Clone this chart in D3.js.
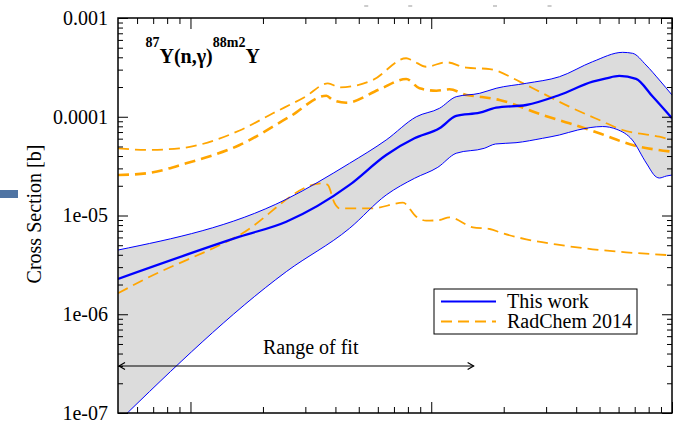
<!DOCTYPE html>
<html lang="en">
<head>
<meta charset="UTF-8">
<title>87Y(n,g)88m2Y cross section</title>
<script src="https://d3js.org/d3.v7.min.js"></script>
<style>
    body { margin: 0; padding: 0; background: #fff; }
    svg { display: block; }
    svg text { font-family: "Liberation Serif", "DejaVu Serif", "Times New Roman", Times, serif; }
    .tick text { font-size: 20px; fill: #000; }
    .tick line { stroke: #000; stroke-width: 1; }
    .label { font-size: 20px; fill: #000; }
</style>
</head>
<body>
<svg width="682" height="422"></svg>
<script>
// This work: central value and uncertainty band (energy, cross section in b)
const workE    = [0.05, 0.16, 0.25, 0.458, 0.65, 0.852, 1.082, 1.27, 1.59, 1.86, 2.48, 3.41, 4.68, 5.33, 6.04, 7.09, 8.31, 10];
const workXS   = [2.28e-6, 6.10e-6, 8.65e-6, 2.04e-5, 4.10e-5, 6.05e-5, 7.64e-5, 1.02e-4, 1.10e-4, 1.235e-4, 1.315e-4, 1.66e-4, 2.265e-4, 2.45e-4, 2.59e-4, 2.42e-4, 1.60e-4, 9.65e-5];
const workHiE  = [0.05, 0.25, 0.458, 0.65, 0.867, 1.082, 1.27, 1.59, 1.86, 2.48, 3.41, 4.68, 6.24, 6.86, 7.80, 8.86, 10];
const workHiXS = [4.47e-6, 1.46e-5, 3.38e-5, 5.82e-5, 1.0e-4, 1.218e-4, 1.596e-4, 1.728e-4, 1.942e-4, 2.18e-4, 2.544e-4, 3.61e-4, 4.49e-4, 4.39e-4, 3.34e-4, 2.356e-4, 1.661e-4];
const workLoE  = [0.05, 0.25, 0.458, 0.65, 0.852, 1.065, 1.27, 1.66, 1.85, 2.25, 2.90, 3.41, 4.06, 5.14, 5.9, 6.84, 7.82, 8.61, 8.86, 9.47, 10];
const workLoXS = [8.1e-8, 2.70e-6, 7.42e-6, 1.613e-5, 2.38e-5, 3.077e-5, 4.27e-5, 4.79e-5, 5.30e-5, 5.46e-5, 6.05e-5, 6.54e-5, 7.34e-5, 7.96e-5, 7.45e-5, 5.82e-5, 3.40e-5, 2.454e-5, 2.397e-5, 2.51e-5, 2.571e-5];

// RadChem 2014: central and upper/lower curves
const radMidE   = [0.05, 0.0657, 0.096, 0.16, 0.258, 0.367, 0.39, 0.444, 0.61, 0.787, 0.894, 1.05, 1.19, 1.40, 1.59, 1.92, 2.90, 3.75, 4.99, 6.86, 10];
const radMidXS  = [2.57e-5, 2.675e-5, 3.38e-5, 5.175e-5, 1.0e-4, 1.634e-4, 1.478e-4, 1.388e-4, 1.897e-4, 2.412e-4, 1.942e-4, 1.836e-4, 1.897e-4, 1.661e-4, 1.596e-4, 1.478e-4, 1.042e-4, 8.59e-5, 6.80e-5, 5.175e-5, 4.43e-5];
const radHiE    = [0.05, 0.0657, 0.09, 0.16, 0.22, 0.30, 0.372, 0.416, 0.572, 0.787, 0.839, 0.953, 1.154, 1.40, 1.75, 2.33, 2.73, 3.75, 4.99, 6.24, 8.86, 10];
const radHiXS   = [4.79e-5, 4.61e-5, 4.79e-5, 7.26e-5, 1.084e-4, 1.596e-4, 2.18e-4, 1.987e-4, 2.356e-4, 3.91e-4, 3.69e-4, 3.21e-4, 3.56e-4, 3.14e-4, 3.04e-4, 2.265e-4, 1.866e-4, 1.264e-4, 9.27e-5, 7.34e-5, 6.28e-5, 5.82e-5];
const radLoE    = [0.05, 0.0636, 0.16, 0.355, 0.372, 0.397, 0.416, 0.572, 0.763, 0.867, 0.953, 1.082, 1.19, 1.49, 1.75, 1.98, 2.48, 3.41, 4.68, 6.44, 10];
const radLoXS   = [1.63e-6, 2.22e-6, 6.35e-6, 2.12e-5, 2.036e-5, 1.329e-5, 1.183e-5, 1.183e-5, 1.348e-5, 9.72e-6, 8.86e-6, 9.0e-6, 9.59e-6, 7.59e-6, 7.30e-6, 6.60e-6, 5.74e-6, 5.03e-6, 4.55e-6, 4.24e-6, 3.95e-6];

const fitRange = [0.05, 1.5];
const yMajor = [1e-7, 1e-6, 1e-5, 1e-4, 1e-3];
const yLabels = ["1e-07", "1e-06", "1e-05", "0.0001", "0.001"];
const xMajor = [0.1, 1, 10];
const legendItems = ["This work", "RadChem 2014"];
// leftover specks of text cut off above the frame
const topSpecks = [0.537, 0.818, 1.84, 3.1];

const svg = d3.select("svg");
const pLeft = 118, pRight = 672, pTop = 18, pBottom = 413;

const x = d3.scaleLog().domain([0.05, 10]).range([pLeft, pRight]);
const y = d3.scaleLog().domain([1e-7, 1e-3]).range([pBottom, pTop]);

// minor tick positions
const xMinor = [];
[0.01, 0.1, 1].forEach(dec => { for (let m = 2; m <= 9; m++) { const v = dec * m; if (v > 0.05 && v < 10) xMinor.push(v); } });
const yMinor = [];
[1e-7, 1e-6, 1e-5, 1e-4].forEach(dec => { for (let m = 2; m <= 9; m++) yMinor.push(dec * m); });

// stray marker at the far left
svg.append("rect").attr("x", 0).attr("y", 190).attr("width", 18).attr("height", 8).attr("fill", "#4f74a3");
svg.selectAll("rect.speck").data(topSpecks).enter().append("rect")
    .attr("class", "speck")
    .attr("x", d => x(d) - 2).attr("y", 5.5).attr("width", 4).attr("height", 1)
    .attr("fill", "#999");

const defs = svg.append("defs");
defs.append("clipPath").attr("id", "plot")
    .append("rect").attr("x", pLeft).attr("y", pTop).attr("width", pRight - pLeft).attr("height", pBottom - pTop);

const pts = (es, vs) => es.map((e, i) => [x(e), y(vs[i])]);
const line = d3.line().curve(d3.curveMonotoneX);

const plot = svg.append("g").attr("clip-path", "url(#plot)");

// uncertainty band
const hiPts = pts(workHiE, workHiXS);
const loPts = pts(workLoE, workLoXS);
const bandPath = line(hiPts) + "L" + line(loPts.slice().reverse()).slice(1) + "Z";
plot.append("path").attr("d", bandPath).attr("fill", "#dcdcdc");

// RadChem curves
plot.append("path").attr("d", line(pts(radHiE, radHiXS)))
    .attr("fill", "none").attr("stroke", "#ffa500").attr("stroke-width", 1.8).attr("stroke-dasharray", "11,6");
plot.append("path").attr("d", line(pts(radLoE, radLoXS)))
    .attr("fill", "none").attr("stroke", "#ffa500").attr("stroke-width", 1.8).attr("stroke-dasharray", "11,6");
plot.append("path").attr("d", line(pts(radMidE, radMidXS)))
    .attr("fill", "none").attr("stroke", "#ffa500").attr("stroke-width", 2.6).attr("stroke-dasharray", "11,6");

// this work
plot.append("path").attr("d", line(hiPts)).attr("fill", "none").attr("stroke", "#0000ff").attr("stroke-width", 1);
plot.append("path").attr("d", line(loPts)).attr("fill", "none").attr("stroke", "#0000ff").attr("stroke-width", 1);
plot.append("path").attr("d", line(pts(workE, workXS))).attr("fill", "none").attr("stroke", "#0000ff").attr("stroke-width", 2.3);

// axes, ticks pointing inward
function axis(gen, tx, ty, vals, size, labels) {
    const g = svg.append("g").attr("transform", `translate(${tx},${ty})`)
        .call(gen.tickValues(vals).tickSize(size).tickPadding(10)
            .tickFormat(labels ? (d, i) => labels[i] : ""));
    g.attr("font-family", null);
    g.select(".domain").remove();
}
axis(d3.axisLeft(y), pLeft, 0, yMajor, -10, yLabels);
axis(d3.axisLeft(y), pLeft, 0, yMinor, -5);
axis(d3.axisRight(y), pRight, 0, yMajor, -10);
axis(d3.axisRight(y), pRight, 0, yMinor, -5);
axis(d3.axisTop(x), 0, pTop, xMajor, -11);
axis(d3.axisTop(x), 0, pTop, xMinor, -6);
axis(d3.axisBottom(x), 0, pBottom, xMajor, -11);
axis(d3.axisBottom(x), 0, pBottom, xMinor, -6);

svg.append("rect").attr("x", pLeft).attr("y", pTop).attr("width", pRight - pLeft).attr("height", pBottom - pTop)
    .attr("fill", "none").attr("stroke", "#000").attr("stroke-width", 1.5);

// axis title
svg.append("text").attr("class", "label")
    .attr("transform", "translate(41,214) rotate(-90)")
    .attr("text-anchor", "middle")
    .text("Cross Section [b]");

// reaction label
const title = svg.append("text").attr("x", 145.5).attr("y", 63).attr("font-weight", "bold").attr("fill", "#000");
title.append("tspan").attr("font-size", 14).attr("dy", -16).text("87");
title.append("tspan").attr("font-size", 20).attr("dy", 16).text("Y(n,γ)");
title.append("tspan").attr("font-size", 14).attr("dy", -16).text("88m2");
title.append("tspan").attr("font-size", 20).attr("dy", 16).text("Y");

// range of fit arrow
const marker = defs.append("marker")
    .attr("id", "arrow").attr("viewBox", "-7 -5 9 10")
    .attr("refX", 0).attr("refY", 0)
    .attr("markerWidth", 9).attr("markerHeight", 10)
    .attr("markerUnits", "userSpaceOnUse")
    .attr("orient", "auto-start-reverse");
marker.append("path").attr("d", "M-6,-3.5L0,0L-6,3.5").attr("fill", "none").attr("stroke", "#000").attr("stroke-width", 1.2);

svg.append("line")
    .attr("x1", x(fitRange[0]) + 1).attr("x2", x(fitRange[1]))
    .attr("y1", 366).attr("y2", 366)
    .attr("stroke", "#000").attr("stroke-width", 1.2)
    .attr("marker-start", "url(#arrow)").attr("marker-end", "url(#arrow)");
svg.append("text").attr("class", "label").attr("x", x(0.2)).attr("y", 354).text("Range of fit");

// legend
const lg = svg.append("g");
lg.append("rect").attr("x", 434).attr("y", 289).attr("width", 203).attr("height", 45)
    .attr("fill", "#fff").attr("stroke", "#000").attr("stroke-width", 1);
lg.append("line").attr("x1", 441).attr("x2", 496).attr("y1", 301.5).attr("y2", 301.5)
    .attr("stroke", "#0000ff").attr("stroke-width", 2);
lg.append("line").attr("x1", 441).attr("x2", 496).attr("y1", 321.5).attr("y2", 321.5)
    .attr("stroke", "#ffa500").attr("stroke-width", 2).attr("stroke-dasharray", "11,6");
lg.selectAll("text.item").data(legendItems).enter().append("text")
    .attr("class", "label item")
    .attr("x", 507).attr("y", (d, i) => 308 + i * 20)
    .text(d => d);
</script>
</body>
</html>
